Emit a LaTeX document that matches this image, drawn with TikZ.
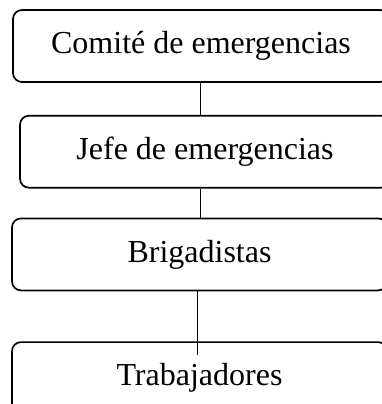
\documentclass[tikz,border=0pt]{standalone}
\usepackage{fontspec}
\setmainfont{Liberation Serif}
\usetikzlibrary{positioning}

\begin{document}
\begin{tikzpicture}[
    x = 1pt, y = 1pt,
    level/.style = {
      rectangle, draw, rounded corners = 9pt, line width = 1.7pt,
      minimum height = 72pt, inner sep = 0pt,
      font = \fontsize{32}{38}\selectfont
    },
    link/.style = {
      draw, line width = 0.9pt
    },
    ]
\useasboundingbox (0,0) rectangle (382,-404);
\clip (0,0) rectangle (382,-404);
\node  [level, minimum width = 376pt]  (comite)  at (201,-46)  {Comité de emergencias};
\node  [level, minimum width = 370pt]  (jefe)  [below = 32pt of comite, xshift = 4pt]  {Jefe de emergencias};
\node  [level, minimum width = 375pt]  (brigada)  [below = 29pt of jefe, xshift = -5.5pt]  {Brigadistas};
\node  [level, minimum width = 375pt]  (trabaj)  [below = 50pt of brigada]  {Trabajadores};

% connectors
\coordinate  (t_end)  at ([xshift = -2pt, yshift = -14pt]trabaj.north);
\draw  [link]  (comite.south -| 200,0)  --  (jefe.north -| 200,0);
\draw  [link]  (jefe.south -| 200,0)  --  (brigada.north -| 200,0);
\draw  [link]  (brigada.south -| t_end)  --  (t_end);
\end{tikzpicture}
\end{document}
